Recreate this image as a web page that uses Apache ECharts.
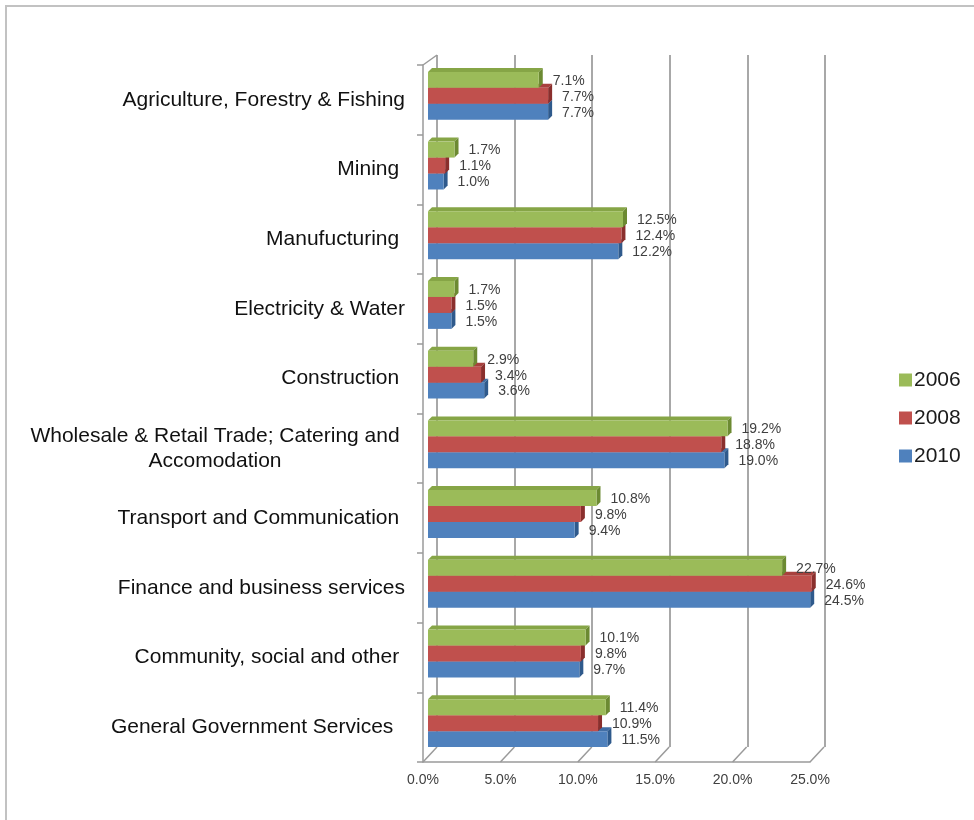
<!DOCTYPE html>
<html>
<head>
<meta charset="utf-8">
<script src="https://cdn.jsdelivr.net/npm/echarts@6/dist/echarts.min.js"></script>
<style>
  html, body { margin: 0; padding: 0; background: #fff; }
  #frame { position: absolute; left: 5px; top: 5px; width: 980px; height: 830px;
           border-top: 2px solid #c2c2c2; border-left: 2px solid #c2c2c2; }
  #chart { position: absolute; left: 0; top: 0; width: 974px; height: 820px; }
</style>
</head>
<body>
<div id="frame"></div>
<div id="chart"></div>
<script>
// Sector shares of output, by year
const categories = [
  'Agriculture, Forestry & Fishing',
  'Mining ',
  'Manufucturing ',
  'Electricity & Water',
  'Construction ',
  'Wholesale & Retail Trade; Catering and\nAccomodation',
  'Transport and Communication ',
  'Finance and business services',
  'Community, social and other ',
  'General Government Services  '
];
const years = ['2006', '2008', '2010'];
const values2006 = [7.1, 1.7, 12.5, 1.7, 2.9, 19.2, 10.8, 22.7, 10.1, 11.4];
const values2008 = [7.7, 1.1, 12.4, 1.5, 3.4, 18.8, 9.8, 24.6, 9.8, 10.9];
const values2010 = [7.7, 1.0, 12.2, 1.5, 3.6, 19.0, 9.4, 24.5, 9.7, 11.5];
const xTicks = [0, 5, 10, 15, 20, 25];

const FONT = '"Liberation Sans", Arial, sans-serif';
const palettes = [
  { front: '#9BBB59', top: '#86a546', side: '#6c8a32' },
  { front: '#C0504D', top: '#a8403d', side: '#8a2f2d' },
  { front: '#4F81BD', top: '#416ea5', side: '#2f5a8c' }
];

// 3D-look bar: front face, top face, right side face and a value label
function barRenderer(slot, pal) {
  return function (params, api) {
    const val = api.value(0);
    const cat = api.value(1);
    const base = api.coord([0, cat]);
    const end = api.coord([val, cat]);
    const band = api.size([0, 1])[1];
    const h = band * 0.229;
    const y0 = base[1] - 1.5 * h + slot * h;
    const x0 = base[0], x1 = end[0];
    const dx = 4, dy = -4;
    return {
      type: 'group',
      children: [
        { type: 'polygon', shape: { points: [[x0, y0], [x0 + dx, y0 + dy], [x1 + dx, y0 + dy], [x1, y0]] },
          style: { fill: pal.top } },
        { type: 'polygon', shape: { points: [[x1, y0], [x1 + dx, y0 + dy], [x1 + dx, y0 + h + dy], [x1, y0 + h]] },
          style: { fill: pal.side } },
        { type: 'rect', shape: { x: x0, y: y0, width: x1 - x0, height: h }, style: { fill: pal.front } },
        { type: 'text', x: x1 + dx + 10, y: y0 + h / 2 + 1,
          style: { text: val.toFixed(1) + '%', fill: '#404040', font: '14px ' + FONT,
                   align: 'left', verticalAlign: 'middle' } }
      ]
    };
  };
}

// Floor depth lines at each tick plus the top-left wall corner
function depthRenderer(params, api) {
  const v = api.value(0);
  const p = api.coord([v, 0]);
  const cs = params.coordSys;
  const yb = cs.y + cs.height;
  const children = [
    { type: 'line', shape: { x1: p[0], y1: yb, x2: p[0] + 14, y2: yb - 15 },
      style: { stroke: '#9a9a9a', lineWidth: 1.5 } }
  ];
  if (v === 0) {
    children.push({ type: 'line', shape: { x1: p[0], y1: cs.y, x2: p[0] + 14, y2: cs.y - 10 },
      style: { stroke: '#9a9a9a', lineWidth: 1.5 } });
  }
  return { type: 'group', children: children };
}

const seriesValues = [values2006, values2008, values2010];

const chart = echarts.init(document.getElementById('chart'), null, { renderer: 'canvas' });
chart.setOption({
  animation: false,
  backgroundColor: 'transparent',
  legend: {
    data: years,
    orient: 'vertical',
    left: 894,
    top: 364,
    icon: 'rect',
    itemWidth: 13,
    itemHeight: 13,
    itemGap: 16,
    textStyle: { fontFamily: FONT, fontSize: 21, color: '#1a1a1a', lineHeight: 22, padding: [0, 0, 0, -3] }
  },
  grid: [
    { left: 428, right: 156, top: 61, bottom: 62 },  // bars
    { left: 423, right: 164, top: 65, bottom: 58 },  // front frame
    { left: 437, right: 149, top: 55, bottom: 73 }   // back wall
  ],
  xAxis: [
    { gridIndex: 0, type: 'value', min: 0, max: 25, show: false },
    { gridIndex: 1, type: 'value', min: 0, max: 25, interval: 5,
      axisLine: { show: true, lineStyle: { color: '#9a9a9a', width: 1.5 } },
      axisTick: { show: false },
      splitLine: { show: false },
      axisLabel: { margin: 11, fontFamily: FONT, fontSize: 14, color: '#404040',
                   formatter: v => v.toFixed(1) + '%' } },
    { gridIndex: 2, type: 'value', min: 0, max: 25, interval: 5,
      axisLine: { show: false }, axisTick: { show: false }, axisLabel: { show: false },
      splitLine: { show: true, lineStyle: { color: '#a8a8a8', width: 2 } } }
  ],
  yAxis: [
    { gridIndex: 0, type: 'category', data: categories, inverse: true, show: false },
    { gridIndex: 1, type: 'category', data: categories, inverse: true,
      axisLine: { show: true, lineStyle: { color: '#9a9a9a', width: 1.5 } },
      axisTick: { show: true, inside: false, length: 6, lineStyle: { color: '#9a9a9a', width: 1.5 } },
      axisLabel: {
        margin: 18, fontFamily: FONT, fontSize: 21, color: '#111',
        formatter: function (v) {
          if (v.indexOf('\n') < 0) return v;
          return v.split('\n').map(s => '{c|' + s + '}').join('\n');
        },
        rich: { c: { width: 380, align: 'center', fontFamily: FONT, fontSize: 21, lineHeight: 25, color: '#111' } }
      } },
    { gridIndex: 2, type: 'value', show: false, min: 0, max: 1 }
  ],
  series: seriesValues.map((vals, i) => ({
    name: years[i],
    type: 'custom',
    xAxisIndex: 0,
    yAxisIndex: 0,
    z: 10 - i,
    clip: false,
    itemStyle: { color: palettes[i].front },
    encode: { x: 0, y: 1 },
    renderItem: barRenderer(i, palettes[i]),
    data: vals.map((v, c) => [v, c])
  })).concat([{
    type: 'custom',
    xAxisIndex: 1,
    yAxisIndex: 1,
    silent: true,
    clip: false,
    z: 1,
    encode: { x: 0, y: 1 },
    renderItem: depthRenderer,
    data: xTicks.map(v => [v, 0])
  }])
});
</script>
</body>
</html>
